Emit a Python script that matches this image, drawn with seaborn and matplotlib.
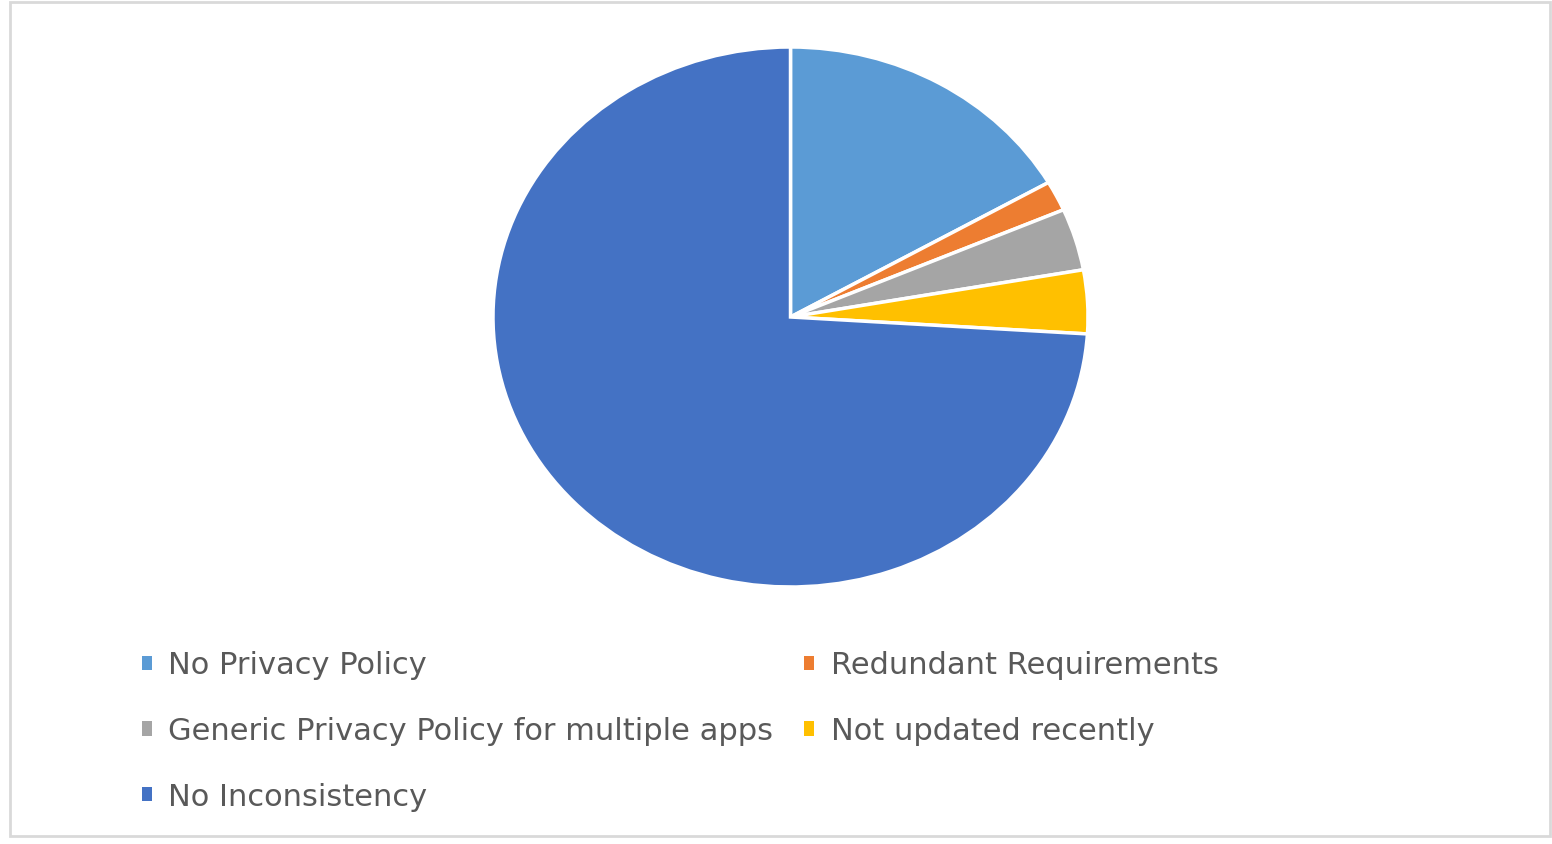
import matplotlib
matplotlib.use("Agg")
import matplotlib.pyplot as plt
import matplotlib.patches as mpatches
import seaborn as sns

sns.set_theme(style="white")
plt.rcParams['font.family'] = ['DejaVu Sans']

# data (percent of apps)
categories = ["No Privacy Policy", "Redundant Requirements",
              "Generic Privacy Policy for multiple apps", "Not updated recently",
              "No Inconsistency"]
shares = [16.7, 1.8, 3.7, 3.8, 74.0]
colors = ["#5B9BD5", "#ED7D31", "#A5A5A5", "#FFC000", "#4472C4"]

fig = plt.figure(figsize=(15.52, 8.45), dpi=100)

# outer chart frame
fig.add_artist(mpatches.Rectangle((10 / 1552, 8 / 845), 1540 / 1552, 834 / 845,
                                  transform=fig.transFigure, fill=False,
                                  edgecolor="#d9d9d9", linewidth=2))

# pie is a bit stretched horizontally in the reference
ax = fig.add_axes([493 / 1552, 1 - 588 / 845, 595 / 1552, 540 / 845])
wedges, _ = ax.pie(shares, colors=colors, startangle=90, counterclock=False,
                   wedgeprops=dict(edgecolor="white", linewidth=2.5))
ax.set_aspect("auto")
ax.set_xlim(-1, 1)
ax.set_ylim(-1, 1)
ax.axis("off")

# legend, filled column-first so rows read like the reference
order = [0, 2, 4, 1, 3]
leg = fig.legend([wedges[i] for i in order], [categories[i] for i in order],
                 ncol=2, loc="upper left", bbox_to_anchor=(114 / 1552, 1 - 624 / 845),
                 frameon=False, fontsize=22, labelcolor="#595959",
                 handlelength=0.33, handleheight=0.33, handletextpad=0.55,
                 columnspacing=1.0, labelspacing=1.21)
for h in leg.legend_handles:
    h.set_edgecolor("none")

fig.savefig("out.png", dpi=100)
